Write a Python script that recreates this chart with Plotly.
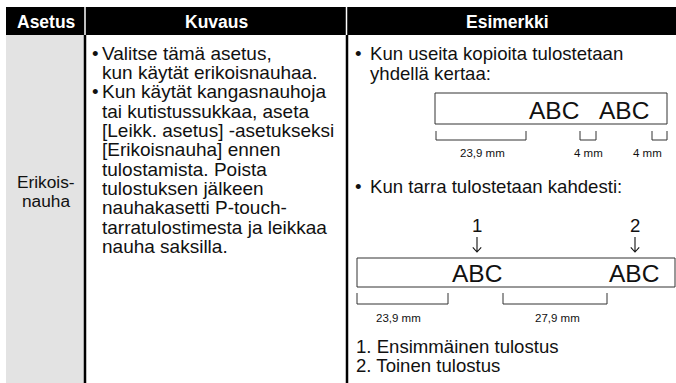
import plotly.graph_objects as go

# ---- content ----
headers = ["Asetus", "Kuvaus", "Esimerkki"]
setting_name = ["Erikois-", "nauha"]
description_lines = [
    ("•", "Valitse tämä asetus,"),
    ("", "kun käytät erikoisnauhaa."),
    ("•", "Kun käytät kangasnauhoja"),
    ("", "tai kutistussukkaa, aseta"),
    ("", "[Leikk. asetus] -asetukseksi"),
    ("", "[Erikoisnauha] ennen"),
    ("", "tulostamista. Poista"),
    ("", "tulostuksen jälkeen"),
    ("", "nauhakasetti P-touch-"),
    ("", "tarratulostimesta ja leikkaa"),
    ("", "nauha saksilla."),
]
example1_lines = [("•", "Kun useita kopioita tulostetaan"), ("", "yhdellä kertaa:")]
example2_lines = [("•", "Kun tarra tulostetaan kahdesti:")]
label_text = ["ABC", "ABC"]
measures_1 = [23.9, 4, 4]
measures_2 = [23.9, 27.9]
print_numbers = ["1", "2"]
footnotes = ["1. Ensimmäinen tulostus", "2. Toinen tulostus"]

def mm(v):
    s = ("%g" % v).replace(".", ",")
    return s + " mm"

W, H = 676, 383
FONT = "Liberation Sans, Arial, sans-serif"
BODY = 18.6
DARK = "#333333"

fig = go.Figure()
fig.add_trace(go.Scatter(x=[0, W], y=[0, H], mode="markers",
                         marker=dict(opacity=0), hoverinfo="skip", showlegend=False))

shapes = []
ann = []

def rect(x0, y0, x1, y1, fill=None, line=None, lw=0):
    shapes.append(dict(type="rect", x0=x0, y0=y0, x1=x1, y1=y1, xref="x", yref="y",
                       fillcolor=fill if fill else "rgba(0,0,0,0)",
                       line=dict(color=line if line else "rgba(0,0,0,0)", width=lw),
                       layer="below"))

def line(x0, y0, x1, y1, color="#000", w=1):
    shapes.append(dict(type="line", x0=x0, y0=y0, x1=x1, y1=y1, xref="x", yref="y",
                       line=dict(color=color, width=w)))

def down_arrow(x, ytop, ybot, head=4.2, color="#111"):
    shapes.append(dict(type="path", xref="x", yref="y",
                       path="M %g %g L %g %g M %g %g L %g %g L %g %g" % (
                           x, ytop, x, ybot, x - head, ybot - head * 1.1, x, ybot,
                           x + head, ybot - head * 1.1),
                       line=dict(color=color, width=1.1)))

def text(x, y, s, size=BODY, color="#111", anchor="left", bold=False, family=FONT):
    ann.append(dict(x=x, y=y, xref="x", yref="y", text=("<b>%s</b>" % s) if bold else s,
                    showarrow=False, xanchor=anchor, yanchor="middle",
                    font=dict(family=family, size=size, color=color)))

# header band
rect(6, 7, W + 2, 35, fill="#000000")
line(85, 7, 85, 35, color="#ffffff", w=1.5)
line(346.5, 7, 346.5, 35, color="#ffffff", w=1.5)
for cx, h in zip([46, 216, 507], headers):
    text(cx, 21.5, h, size=17.5, color="#ffffff", anchor="center", bold=True)

# gray setting column
rect(6, 35, 84, H + 2, fill="#e3e3e3")
line(85, 35, 85, H + 2, color="#000", w=2.5)
line(347, 35, 347, H + 2, color="#000", w=2.5)

text(46, 182, setting_name[0], size=17.3, anchor="center")
text(46, 200.5, setting_name[1], size=17.3, anchor="center")

# description column
y0, dy = 53, 19.35
for i, (b, s) in enumerate(description_lines):
    y = y0 + i * dy
    if b:
        text(95, y, b, anchor="center")
    text(100, y, s, size=19)

# example column - part 1
for i, (b, s) in enumerate(example1_lines):
    y = 53 + i * 20
    if b:
        text(358, y, b, anchor="center")
    text(368, y, s)

rect(435, 93, 667, 124, line=DARK, lw=1)
for cx, s in zip([553.5, 624], label_text):
    text(cx, 110, s, size=24.5, anchor="center")
for (a, b), v, cx in zip([(436, 526), (580, 596), (652, 667)], measures_1, [482, 588, 647]):
    line(a, 131, a, 140, color=DARK, w=1)
    line(a, 140, b, 140, color=DARK, w=1)
    line(b, 131, b, 140, color=DARK, w=1)
    text(cx, 153, mm(v), size=11.5, anchor="center")

# example column - part 2
for i, (b, s) in enumerate(example2_lines):
    y = 186 + i * 20
    if b:
        text(358, y, b, anchor="center")
    text(368, y, s)

for cx, n in zip([477, 635], print_numbers):
    text(cx, 225, n, anchor="center")
    down_arrow(cx, 237, 252)

rect(357, 258, 675, 287, line=DARK, lw=1)
for cx, s in zip([476.5, 633.5], label_text):
    text(cx, 273.5, s, size=24.5, anchor="center")
for (a, b), v, cx in zip([(357, 448), (503, 607)], measures_2, [398, 557]):
    line(a, 293, a, 304, color=DARK, w=1)
    line(a, 304, b, 304, color=DARK, w=1)
    line(b, 293, b, 304, color=DARK, w=1)
    text(cx, 318, mm(v), size=11.5, anchor="center")

for i, s in enumerate(footnotes):
    text(354, 346.5 + i * 19, s)

fig.update_layout(
    width=W, height=H, margin=dict(l=0, r=0, t=0, b=0),
    paper_bgcolor="#ffffff", plot_bgcolor="#ffffff",
    xaxis=dict(range=[0, W], visible=False, fixedrange=True),
    yaxis=dict(range=[H, 0], visible=False, fixedrange=True),
    shapes=shapes, annotations=ann, showlegend=False,
)
fig.write_html(
    "out.html",
    config=dict(displayModeBar=False),
    post_script="document.body.style.margin='0';document.body.style.padding='0';"
                "document.body.style.overflow='hidden';",
)
